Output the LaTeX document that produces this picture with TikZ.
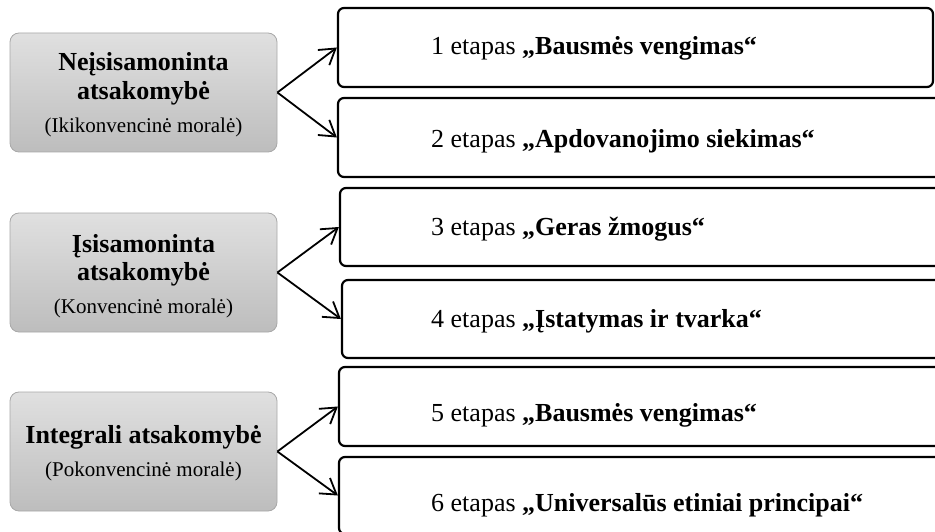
\documentclass[tikz,border=0pt]{standalone}
\usepackage{fontspec}
\setmainfont{Liberation Serif}
\usetikzlibrary{arrows.meta}

\definecolor{levelTop}{HTML}{E0E0E0}
\definecolor{levelBot}{HTML}{BDBDBD}
\definecolor{levelEdge}{HTML}{A8A8A8}

\tikzset{
  level/.style={rectangle, rounded corners=9pt, draw=levelEdge, line width=0.8pt,
    top color=levelTop, bottom color=levelBot,
    minimum width=267pt, minimum height=119pt, inner sep=0pt},
  stage/.style={rectangle, rounded corners=6pt, draw=black, line width=2.2pt,
    fill=white, inner sep=0pt},
  ttl/.style={font=\fontsize{26}{29}\selectfont\bfseries, anchor=base, inner sep=0pt},
  sub/.style={font=\fontsize{21}{25}\selectfont, anchor=base, inner sep=0pt},
  stxt/.style={font=\fontsize{26}{30}\selectfont, anchor=base west, inner sep=0pt},
  link/.style={line width=1.8pt, -{Straight Barb[length=15pt,width=19pt]}},
}

\begin{document}
\begin{tikzpicture}[x=1pt, y=-1pt]
  \useasboundingbox (0,0) rectangle (935,532);
  \clip (0,0) rectangle (935,532);

  % responsibility levels
  \node[level] (L1) at (143.5, 92.5) {};
  \node[level] (L2) at (143.5, 272.5) {};
  \node[level] (L3) at (143.5, 451.5) {};

  \node[ttl] (L1a) at (143.5, 71) {Neįsisamoninta};
  \node[ttl] (L1b) at (143.5, 99.5) {atsakomybė};
  \node[sub] (L1c) at (143.5, 133) {(Ikikonvencinė moralė)};

  \node[ttl] (L2a) at (143.5, 252) {Įsisamoninta};
  \node[ttl] (L2b) at (143.5, 280.5) {atsakomybė};
  \node[sub] (L2c) at (143.5, 313) {(Konvencinė moralė)};

  \node[ttl] (L3a) at (143.5, 443) {Integrali atsakomybė};
  \node[sub] (L3b) at (143.5, 476) {(Pokonvencinė moralė)};

  % moral development stages
  \node[stage, minimum width=595pt, minimum height=79pt] (S1) at (635.5, 47.5) {};
  \node[stage, minimum width=607pt, minimum height=79pt] (S2) at (641.5, 137.5) {};
  \node[stage, minimum width=605pt, minimum height=78pt] (S3) at (642.5, 227) {};
  \node[stage, minimum width=603pt, minimum height=78pt] (S4) at (643.5, 319) {};
  \node[stage, minimum width=606pt, minimum height=79pt] (S5) at (642, 406.5) {};
  \node[stage, minimum width=606pt, minimum height=77pt] (S6) at (642, 495.5) {};

  \node[stxt] (T1) at (431, 55) {1 etapas \textbf{„Bausmės vengimas“}};
  \node[stxt] (T2) at (431, 148) {2 etapas \textbf{„Apdovanojimo siekimas“}};
  \node[stxt] (T3) at (431, 236) {3 etapas \textbf{„Geras žmogus“}};
  \node[stxt] (T4) at (431, 327) {4 etapas \textbf{„Įstatymas ir tvarka“}};
  \node[stxt] (T5) at (431, 421) {5 etapas \textbf{„Bausmės vengimas“}};
  \node[stxt] (T6) at (431, 511) {6 etapas \textbf{„Universalūs etiniai principai“}};

  % branching arrows
  \draw[link] (L1.east) -- (S1.west);
  \draw[link] (L1.east) -- (S2.west);
  \draw[link] (L2.east) -- (S3.west);
  \draw[link] (L2.east) -- (S4.west);
  \draw[link] (L3.east) -- (S5.west);
  \draw[link] (L3.east) -- (S6.west);
\end{tikzpicture}
\end{document}
